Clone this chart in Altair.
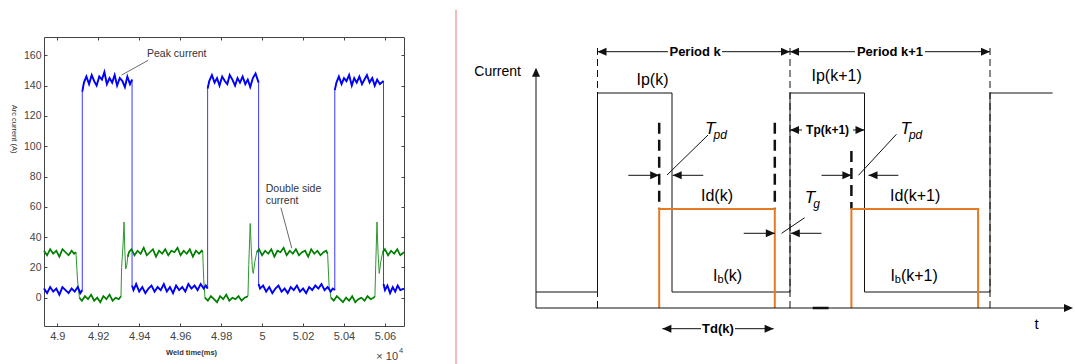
import altair as alt
import pandas as pd

# ================= LEFT PANEL: measured arc current =================
# time in ms (axis shows value / 1e4), current in A
blue_t = [48935, 48950, 48965, 48980, 48995, 49010, 49025, 49040, 49055, 49070, 49085, 49100, 49112, 49122,
          49122, 49130, 49142, 49155, 49168, 49180, 49192, 49205, 49218, 49230, 49242, 49255, 49268, 49280, 49292,
          49305, 49318, 49330, 49342, 49355, 49365,
          49365, 49372, 49385, 49400, 49415, 49430, 49445, 49460, 49475, 49490, 49505, 49520, 49535, 49550, 49565,
          49580, 49595, 49610, 49625, 49640, 49655, 49670, 49685, 49700, 49715, 49725, 49734,
          49734, 49742, 49755, 49768, 49780, 49792, 49805, 49818, 49830, 49842, 49855, 49868, 49880, 49892, 49905,
          49918, 49930, 49942, 49955, 49968, 49983,
          49983, 49990, 50005, 50020, 50035, 50050, 50065, 50080, 50095, 50110, 50125, 50140, 50155, 50170, 50185,
          50200, 50215, 50230, 50245, 50260, 50275, 50290, 50305, 50320, 50335, 50345, 50355,
          50355, 50363, 50375, 50388, 50400, 50412, 50425, 50438, 50450, 50462, 50475, 50488, 50500, 50512, 50525,
          50538, 50550, 50562, 50575, 50593,
          50593, 50600, 50612, 50625, 50638, 50650, 50662, 50675, 50693]
blue_v = [6, 3, 7, 4, 6, 2, 7, 5, 3, 6, 4, 7, 3, 5,
          136, 142, 146, 141, 147, 143, 140, 146, 144, 149, 141, 145, 142, 147, 140,
          145, 143, 139, 146, 141, 144,
          8, 5, 9, 4, 7, 3, 6, 8, 4, 7, 5, 9, 4, 7, 3,
          8, 5, 7, 4, 9, 6, 8, 5, 9, 6, 8, 6,
          138, 143, 147, 142, 145, 140, 146, 143, 141, 147, 144, 140, 145, 142, 146,
          141, 144, 139, 145, 148, 142,
          9, 6, 8, 4, 7, 3, 6, 8, 4, 6, 3, 7, 5, 8, 4,
          6, 3, 7, 5, 8, 6, 9, 5, 7, 4, 6, 5,
          137, 142, 146, 141, 145, 143, 147, 140, 145, 142, 146, 141, 144, 147, 142,
          145, 140, 144, 141, 143,
          9, 5, 8, 3, 7, 4, 8, 5, 6]

green_t = [48935, 48950, 48965, 48980, 48995, 49010, 49025, 49040, 49055, 49070, 49082, 49091,
           49099, 49108,
           49120, 49135, 49150, 49165, 49180, 49195, 49210, 49225, 49240, 49255, 49270, 49285, 49300, 49311,
           49314, 49321, 49326, 49330, 49334, 49339, 49344, 49350,
           49362, 49377, 49392, 49407, 49422, 49437, 49452, 49467, 49482, 49497, 49512, 49527, 49542, 49557, 49572,
           49587, 49602, 49617, 49632, 49647, 49662, 49677, 49692, 49705, 49710,
           49715, 49721,
           49735, 49750, 49765, 49780, 49795, 49810, 49825, 49840, 49855, 49870, 49885, 49900, 49915, 49931,
           49935, 49942, 49948, 49953, 49957, 49965, 49974,
           49985, 50000, 50015, 50030, 50045, 50060, 50075, 50090, 50105, 50120, 50135, 50150, 50165, 50180, 50195,
           50210, 50225, 50240, 50255, 50270, 50285, 50300, 50313, 50320,
           50327, 50336,
           50350, 50365, 50380, 50395, 50410, 50425, 50440, 50455, 50470, 50485, 50500, 50515, 50530, 50545, 50551,
           50555, 50561, 50566, 50572, 50580, 50589,
           50600, 50615, 50630, 50645, 50660, 50675, 50693]
green_v = [31, 28, 32, 29, 31, 27, 32, 30, 28, 31, 29, 30,
           11, 0,
           -2, 1, -1, 2, -2, 0, -3, 1, -1, 2, -2, 0, -1, 1,
           20, 35, 50, 30, 19, 21, 27, 30,
           32, 28, 31, 29, 33, 28, 30, 32, 27, 31, 29, 32, 28, 31, 30,
           33, 28, 31, 29, 32, 27, 31, 29, 31, 30,
           12, 0,
           -2, 1, -1, -3, 1, -1, 2, -2, 0, -1, 1, -2, 0, 1,
           22, 49, 30, 18, 16, 24, 30,
           32, 28, 31, 29, 32, 27, 31, 30, 33, 28, 31, 29, 32, 28, 30,
           31, 27, 32, 29, 31, 28, 30, 31, 29,
           8, 0,
           -2, 1, -1, -3, 0, -2, 1, -3, -1, 0, -2, 1, -1, 0, 1,
           22, 50, 30, 16, 24, 30,
           32, 28, 31, 29, 32, 28, 30]

x_ticks = [49000, 49200, 49400, 49600, 49800, 50000, 50200, 50400, 50600]
y_ticks = [0, 20, 40, 60, 80, 100, 120, 140, 160]
x_domain = [48935, 50693]
y_domain = [-18.7, 172.1]

ann_text = ["Peak current", "Double side", "current"]
ann_x = [49438, 50018, 50018]
ann_y = [160.7, 71.9, 63.8]
lead_x1 = [49444, 50092]
lead_y1 = [156.7, 59.4]
lead_x2 = [49314, 50145]
lead_y2 = [147.0, 32.6]
exp_text = ["\u00d7 10", "4"]
exp_x = [50664, 50668]
exp_y = [-39.1, -35.2]
exp_size = [11, 7.5]
exp_align_left = [False, True]

FONT = "Liberation Sans"


def plateau_table(t, v, classify):
    """Tag each sample with its plateau (flat stretch) so plateaus can be drawn heavier."""
    rows, seg, prev = [], 0, None
    for i, (ti, vi) in enumerate(zip(t, v)):
        c = classify(vi)
        if c != prev:
            seg += 1
            prev = c
        rows.append({"t": ti, "v": vi, "i": i, "cls": c, "seg": seg})
    return pd.DataFrame(rows)


df_blue = plateau_table(blue_t, blue_v, lambda x: "hi" if x > 100 else "lo")
df_green = plateau_table(green_t, green_v,
                         lambda x: "hi" if 26 <= x <= 34 else ("lo" if x <= 3 else "tr"))
df_ann = pd.DataFrame({"text": ann_text, "x": ann_x, "y": ann_y})
df_lead = pd.DataFrame({"x": lead_x1, "y": lead_y1, "x2": lead_x2, "y2": lead_y2})
df_exp = pd.DataFrame({"text": exp_text, "x": exp_x, "y": exp_y, "fs": exp_size, "left": exp_align_left})

xs = alt.Scale(domain=x_domain, nice=False, zero=False)
ys = alt.Scale(domain=y_domain, nice=False, zero=False)

common = dict(offset=-3, tickSize=3, domain=False, grid=False, tickColor="#444",
              labelColor="#444", labelFont=FONT, titleFont=FONT, titleColor="#333")

ax_bottom = alt.Axis(orient="bottom", values=x_ticks, labelExpr="format(datum.value / 10000, '~g')",
                     labelPadding=4, labelFontSize=11, title="Weld time(ms)", titleFontSize=7.5,
                     titleFontWeight="bold", titleX=147, titleY=29.7, titleBaseline="middle",
                     titleAlign="center", **common)
ax_left = alt.Axis(orient="left", values=y_ticks, labelPadding=3, labelFontSize=10.5, title="Arc current (A)",
                   titleAngle=90, titleFontSize=7.5, titleFontWeight="normal", titleX=-33.7, titleY=91.5,
                   titleBaseline="middle", titleAlign="center", **common)
ax_top = alt.Axis(orient="top", values=x_ticks, labels=False, title="", **common)
ax_right = alt.Axis(orient="right", values=y_ticks, labels=False, title="", **common)

blue_thin = alt.Chart(df_blue).mark_line(color="#3a3aff", strokeWidth=1).encode(
    x=alt.X("t:Q", scale=xs, axis=ax_bottom), y=alt.Y("v:Q", scale=ys, axis=ax_left), order="i:Q")
blue_thick = alt.Chart(df_blue).mark_line(color="#0000ff", strokeWidth=1.9, strokeJoin="miter").encode(
    x=alt.X("t:Q", scale=xs, axis=None), y=alt.Y("v:Q", scale=ys, axis=None), detail="seg:N", order="i:Q")
green_thin = alt.Chart(df_green).mark_line(color="#2e962e", strokeWidth=1).encode(
    x=alt.X("t:Q", scale=xs, axis=ax_top), y=alt.Y("v:Q", scale=ys, axis=ax_right), order="i:Q")
green_thick = alt.Chart(df_green).transform_filter("datum.cls != 'tr'").mark_line(
    color="#008000", strokeWidth=1.7, strokeJoin="miter").encode(
    x=alt.X("t:Q", scale=xs, axis=None), y=alt.Y("v:Q", scale=ys, axis=None), detail="seg:N", order="i:Q")
leads = alt.Chart(df_lead).mark_rule(color="#444", strokeWidth=0.8).encode(
    x=alt.X("x:Q", scale=xs, axis=None), y=alt.Y("y:Q", scale=ys, axis=None), x2="x2:Q", y2="y2:Q")
anns = alt.Chart(df_ann).mark_text(font=FONT, fontSize=10.5, color="#333", align="left", baseline="middle").encode(
    x=alt.X("x:Q", scale=xs, axis=None), y=alt.Y("y:Q", scale=ys, axis=None), text="text:N")
exp_main = alt.Chart(df_exp).transform_filter("!datum.left").mark_text(
    font=FONT, color="#444", align="right", baseline="middle").encode(
    x=alt.X("x:Q", scale=xs, axis=None), y=alt.Y("y:Q", scale=ys, axis=None), text="text:N",
    size=alt.Size("fs:Q", scale=None))
exp_sup = alt.Chart(df_exp).transform_filter("datum.left").mark_text(
    font=FONT, color="#444", align="left", baseline="middle").encode(
    x=alt.X("x:Q", scale=xs, axis=None), y=alt.Y("y:Q", scale=ys, axis=None), text="text:N",
    size=alt.Size("fs:Q", scale=None))

left = alt.layer(blue_thin, green_thin, blue_thick, green_thick, leads, anns, exp_main, exp_sup).resolve_axis(
    x="independent", y="independent").properties(
    width=360, height=289, view=alt.ViewBackground(stroke="#444", strokeWidth=1))

# ================= RIGHT PANEL: schematic of pulse periods =================
wave_t = [0, 6.15, 6.15, 13.6, 13.6, 25.4, 25.4, 32.85, 32.85, 45.4, 45.4, 51.66]
wave_i = [1.6, 1.6, 21.5, 21.5, 1.6, 1.6, 21.5, 21.5, 1.6, 1.6, 21.5, 21.5]

orange_t = [12.32, 12.32, 23.88, 23.88, 31.54, 31.54, 44.21, 44.21]
orange_i = [0, 9.9, 9.9, 0, 0, 9.9, 9.9, 0]
orange_k = [1, 1, 1, 1, 2, 2, 2, 2]

period_t = [6.15, 25.4, 45.4]
period_lo = [0, 0, 0]
period_hi = [26.03, 26.03, 26.03]

thick_t = [12.32, 23.88, 31.54]
thick_lo = [9.9, 9.9, 9.9]
thick_hi = [18.53, 18.53, 15.7]

seg_x1 = [0, 0, 6.15, 18.6, 25.4, 38.9, 9.23, 16.73, 28.55, 36.24, 20.77, 28.55, 12.64, 19.9, 25.4, 31.7,
          17.2, 36.04, 26.87]
seg_y1 = [0, 0, 25.63, 25.63, 25.63, 25.63, 13.27, 13.27, 13.27, 13.27, 7.47, 7.47, -2.07, -2.07, 17.8, 17.8,
          17.3, 17.37, 9.03]
seg_x2 = [0, 52.9, 13.2, 25.4, 31.9, 45.4, 12.32, 13.67, 31.54, 33.25, 23.88, 25.48, 16.5, 23.76, 26.6, 32.85,
          13.1, 32.25, 24.56]
seg_y2 = [23.2, 0, 25.63, 25.63, 25.63, 25.63, 13.27, 13.27, 13.27, 13.27, 7.47, 7.47, -2.07, -2.07, 17.8, 17.8,
          13.3, 13.27, 7.47]

head_x = [0, 53.7, 6.15, 25.4, 25.4, 45.4, 12.32, 13.67, 31.54, 33.25, 23.88, 25.48, 12.64, 23.76, 25.4, 32.85]
head_y = [24.03, 0, 25.63, 25.63, 25.63, 25.63, 13.27, 13.27, 13.27, 13.27, 7.47, 7.47, -2.07, -2.07, 17.8, 17.8]
head_dir = ["up", "right", "left", "right", "left", "right", "right", "left", "right", "left", "right", "left",
            "left", "right", "left", "right"]

bar_x1 = [27.67]
bar_x2 = [29.26]
bar_y = [0]

sep_x = [-8.0]
sep_y1 = [29.8]
sep_y2 = [-5.7]

# texts: (text, x, y, font size)
norm_c_text = ["t", "Ip(k)", "Ip(k+1)", "Id(k)", "Id(k+1)"]
norm_c_x = [50.05, 11.65, 30.06, 18.1, 37.91]
norm_c_y = [-1.6, 22.8, 23.2, 11.2, 11.2]
norm_c_fs = [15, 16, 16, 16, 16]

norm_l_text = ["I", "(k)", "I", "(k+1)", "b", "b"]
norm_l_x = [17.7, 18.75, 35.44, 36.49, 18.14, 35.88]
norm_l_y = [3.2, 3.2, 3.2, 3.2, 2.8, 2.8]
norm_l_fs = [16, 16, 16, 16, 11, 11]

norm_r_text = ["Current"]
norm_r_x = [-1.5]
norm_r_y = [23.6]
norm_r_fs = [14]

bold_text = ["Period k", "Period k+1", "Tp(k+1)", "Td(k)"]
bold_x = [15.91, 35.4, 29.16, 18.2]
bold_y = [25.63, 25.63, 17.8, -2.07]
bold_fs = [13, 13, 12, 13]

ital_text = ["T", "pd", "T", "pd", "T", "g"]
ital_x = [16.9, 17.75, 36.44, 37.29, 26.87, 27.72]
ital_y = [17.95, 17.3, 17.95, 17.3, 11.0, 10.4]
ital_fs = [17, 12, 17, 12, 17, 12]

xr = alt.Scale(domain=[0, 53.7], nice=False, zero=False)
yr = alt.Scale(domain=[0, 27.1], nice=False, zero=False)
INK = "#111111"


def X(f):
    return alt.X(f, scale=xr, axis=None)


def Y(f):
    return alt.Y(f, scale=yr, axis=None)


df_wave = pd.DataFrame({"t": wave_t, "i": wave_i, "o": list(range(len(wave_t)))})
df_orange = pd.DataFrame({"t": orange_t, "i": orange_i, "k": orange_k, "o": list(range(len(orange_t)))})
df_period = pd.DataFrame({"t": period_t, "lo": period_lo, "hi": period_hi})
df_thick = pd.DataFrame({"t": thick_t, "lo": thick_lo, "hi": thick_hi})
df_seg = pd.DataFrame({"x": seg_x1, "y": seg_y1, "x2": seg_x2, "y2": seg_y2})
df_head = pd.DataFrame({"x": head_x, "y": head_y, "dir": head_dir})
df_bar = pd.DataFrame({"x": bar_x1, "x2": bar_x2, "y": bar_y})
df_sep = pd.DataFrame({"x": sep_x, "y": sep_y1, "y2": sep_y2})


def tdf(text, x, y, fs):
    return pd.DataFrame({"text": text, "x": x, "y": y, "fs": fs})


sep = alt.Chart(df_sep).mark_rule(color="#f4a3a3", strokeWidth=1.5).encode(x=X("x:Q"), y=Y("y:Q"), y2="y2:Q")
period_lines = alt.Chart(df_period).mark_rule(color=INK, strokeWidth=1, strokeDash=[7, 4]).encode(
    x=X("t:Q"), y=Y("lo:Q"), y2="hi:Q")
thick_lines = alt.Chart(df_thick).mark_rule(color=INK, strokeWidth=2.5, strokeDash=[11, 6]).encode(
    x=X("t:Q"), y=Y("hi:Q"), y2="lo:Q")
wave = alt.Chart(df_wave).mark_line(color=INK, strokeWidth=1).encode(x=X("t:Q"), y=Y("i:Q"), order="o:Q")
orange = alt.Chart(df_orange).mark_line(color="#e57a25", strokeWidth=2).encode(
    x=X("t:Q"), y=Y("i:Q"), detail="k:N", order="o:Q")
segs = alt.Chart(df_seg).mark_rule(color=INK, strokeWidth=1).encode(x=X("x:Q"), y=Y("y:Q"), x2="x2:Q", y2="y2:Q")
bar = alt.Chart(df_bar).mark_rule(color=INK, strokeWidth=2.5).encode(x=X("x:Q"), x2="x2:Q", y=Y("y:Q"))
heads = alt.Chart(df_head).mark_point(filled=True, size=100, color=INK, opacity=1, strokeWidth=0).encode(
    x=X("x:Q"), y=Y("y:Q"),
    shape=alt.Shape("dir:N", scale=alt.Scale(domain=["right", "left", "up"],
                                             range=["M0,0L-1.8,-0.8L-1.8,0.8Z", "M0,0L1.8,-0.8L1.8,0.8Z",
                                                    "M0,0L-0.8,1.8L0.8,1.8Z"]), legend=None))


def texts(df, align, weight="normal", style="normal"):
    return alt.Chart(df).mark_text(font=FONT, color="#000", align=align, baseline="middle",
                                   fontWeight=weight, fontStyle=style).encode(
        x=X("x:Q"), y=Y("y:Q"), text="text:N", size=alt.Size("fs:Q", scale=None))


t_nc = texts(tdf(norm_c_text, norm_c_x, norm_c_y, norm_c_fs), "center")
t_nl = texts(tdf(norm_l_text, norm_l_x, norm_l_y, norm_l_fs), "left")
t_nr = texts(tdf(norm_r_text, norm_r_x, norm_r_y, norm_r_fs), "right")
t_b = texts(tdf(bold_text, bold_x, bold_y, bold_fs), "center", weight="bold")
t_i = texts(tdf(ital_text, ital_x, ital_y, ital_fs), "left", style="italic")

right = alt.layer(sep, period_lines, thick_lines, wave, orange, segs, bar, heads,
                  t_nc, t_nl, t_nr, t_b, t_i).properties(
    width=537, height=271, view=alt.ViewBackground(stroke="transparent", strokeWidth=0))

chart = alt.hconcat(left, right, spacing=132, bounds="flush").properties(
    padding={"left": 9, "top": 9, "right": 0, "bottom": 0}
).configure_view(stroke="transparent").configure(background="white")

chart.save("out.html", embed_options={"renderer": "svg", "actions": False})
